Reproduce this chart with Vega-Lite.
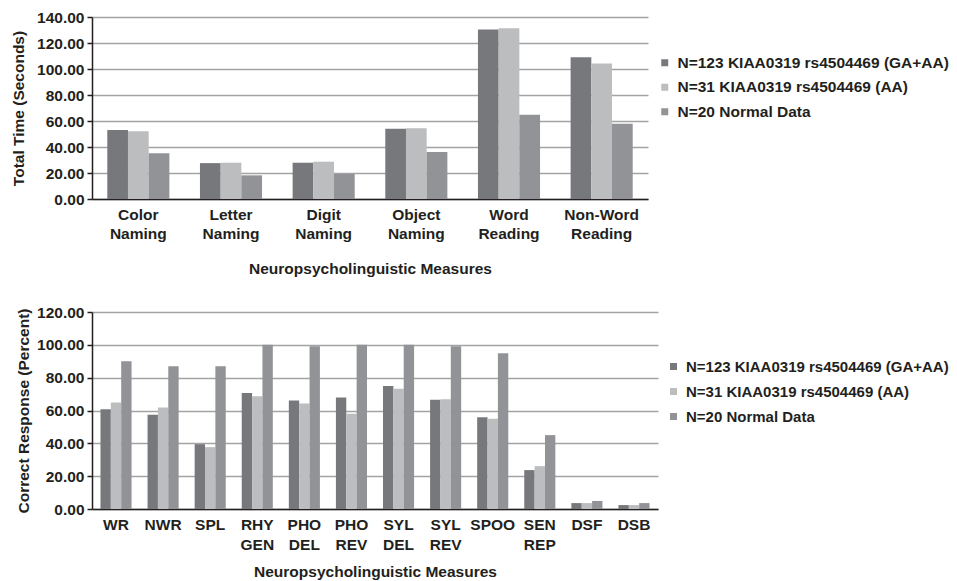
{
  "$schema": "https://vega.github.io/schema/vega-lite/v6.json",
  "padding": {"left": 11, "top": 10, "right": 0, "bottom": 0},
  "background": "white",
  "columns": 1,
  "align": "none",
  "spacing": 28,
  "datasets": {
    "time": [
      {"measure": "Color Naming", "group": "N=123 KIAA0319 rs4504469 (GA+AA)", "value": 53.0},
      {"measure": "Color Naming", "group": "N=31 KIAA0319 rs4504469 (AA)", "value": 52.2},
      {"measure": "Color Naming", "group": "N=20 Normal Data", "value": 35.1},
      {"measure": "Letter Naming", "group": "N=123 KIAA0319 rs4504469 (GA+AA)", "value": 27.6},
      {"measure": "Letter Naming", "group": "N=31 KIAA0319 rs4504469 (AA)", "value": 27.9},
      {"measure": "Letter Naming", "group": "N=20 Normal Data", "value": 18.2},
      {"measure": "Digit Naming", "group": "N=123 KIAA0319 rs4504469 (GA+AA)", "value": 27.9},
      {"measure": "Digit Naming", "group": "N=31 KIAA0319 rs4504469 (AA)", "value": 28.7},
      {"measure": "Digit Naming", "group": "N=20 Normal Data", "value": 19.3},
      {"measure": "Object Naming", "group": "N=123 KIAA0319 rs4504469 (GA+AA)", "value": 54.0},
      {"measure": "Object Naming", "group": "N=31 KIAA0319 rs4504469 (AA)", "value": 54.5},
      {"measure": "Object Naming", "group": "N=20 Normal Data", "value": 36.1},
      {"measure": "Word Reading", "group": "N=123 KIAA0319 rs4504469 (GA+AA)", "value": 130.3},
      {"measure": "Word Reading", "group": "N=31 KIAA0319 rs4504469 (AA)", "value": 131.3},
      {"measure": "Word Reading", "group": "N=20 Normal Data", "value": 64.8},
      {"measure": "Non-Word Reading", "group": "N=123 KIAA0319 rs4504469 (GA+AA)", "value": 109.0},
      {"measure": "Non-Word Reading", "group": "N=31 KIAA0319 rs4504469 (AA)", "value": 104.2},
      {"measure": "Non-Word Reading", "group": "N=20 Normal Data", "value": 57.8}
    ],
    "correct": [
      {"measure": "WR", "group": "N=123 KIAA0319 rs4504469 (GA+AA)", "value": 60.8},
      {"measure": "WR", "group": "N=31 KIAA0319 rs4504469 (AA)", "value": 64.9},
      {"measure": "WR", "group": "N=20 Normal Data", "value": 90.0},
      {"measure": "NWR", "group": "N=123 KIAA0319 rs4504469 (GA+AA)", "value": 57.4},
      {"measure": "NWR", "group": "N=31 KIAA0319 rs4504469 (AA)", "value": 61.8},
      {"measure": "NWR", "group": "N=20 Normal Data", "value": 87.0},
      {"measure": "SPL", "group": "N=123 KIAA0319 rs4504469 (GA+AA)", "value": 39.5},
      {"measure": "SPL", "group": "N=31 KIAA0319 rs4504469 (AA)", "value": 37.7},
      {"measure": "SPL", "group": "N=20 Normal Data", "value": 87.0},
      {"measure": "RHY GEN", "group": "N=123 KIAA0319 rs4504469 (GA+AA)", "value": 70.7},
      {"measure": "RHY GEN", "group": "N=31 KIAA0319 rs4504469 (AA)", "value": 68.7},
      {"measure": "RHY GEN", "group": "N=20 Normal Data", "value": 100.0},
      {"measure": "PHO DEL", "group": "N=123 KIAA0319 rs4504469 (GA+AA)", "value": 66.1},
      {"measure": "PHO DEL", "group": "N=31 KIAA0319 rs4504469 (AA)", "value": 64.3},
      {"measure": "PHO DEL", "group": "N=20 Normal Data", "value": 99.1},
      {"measure": "PHO REV", "group": "N=123 KIAA0319 rs4504469 (GA+AA)", "value": 67.9},
      {"measure": "PHO REV", "group": "N=31 KIAA0319 rs4504469 (AA)", "value": 58.0},
      {"measure": "PHO REV", "group": "N=20 Normal Data", "value": 100.0},
      {"measure": "SYL DEL", "group": "N=123 KIAA0319 rs4504469 (GA+AA)", "value": 75.0},
      {"measure": "SYL DEL", "group": "N=31 KIAA0319 rs4504469 (AA)", "value": 73.2},
      {"measure": "SYL DEL", "group": "N=20 Normal Data", "value": 100.0},
      {"measure": "SYL REV", "group": "N=123 KIAA0319 rs4504469 (GA+AA)", "value": 66.5},
      {"measure": "SYL REV", "group": "N=31 KIAA0319 rs4504469 (AA)", "value": 66.9},
      {"measure": "SYL REV", "group": "N=20 Normal Data", "value": 99.1},
      {"measure": "SPOO", "group": "N=123 KIAA0319 rs4504469 (GA+AA)", "value": 55.9},
      {"measure": "SPOO", "group": "N=31 KIAA0319 rs4504469 (AA)", "value": 54.9},
      {"measure": "SPOO", "group": "N=20 Normal Data", "value": 94.9},
      {"measure": "SEN REP", "group": "N=123 KIAA0319 rs4504469 (GA+AA)", "value": 23.7},
      {"measure": "SEN REP", "group": "N=31 KIAA0319 rs4504469 (AA)", "value": 26.1},
      {"measure": "SEN REP", "group": "N=20 Normal Data", "value": 45.0},
      {"measure": "DSF", "group": "N=123 KIAA0319 rs4504469 (GA+AA)", "value": 3.6},
      {"measure": "DSF", "group": "N=31 KIAA0319 rs4504469 (AA)", "value": 3.6},
      {"measure": "DSF", "group": "N=20 Normal Data", "value": 4.9},
      {"measure": "DSB", "group": "N=123 KIAA0319 rs4504469 (GA+AA)", "value": 2.4},
      {"measure": "DSB", "group": "N=31 KIAA0319 rs4504469 (AA)", "value": 2.4},
      {"measure": "DSB", "group": "N=20 Normal Data", "value": 3.6}
    ]
  },
  "config": {
    "font": "Liberation Sans",
    "view": {"stroke": null},
    "axis": {
      "labelFont": "Liberation Sans",
      "labelFontWeight": "bold",
      "labelFontSize": 15.5,
      "labelColor": "#231f20",
      "titleFont": "Liberation Sans",
      "titleFontWeight": "bold",
      "titleFontSize": 15.5,
      "titleColor": "#231f20",
      "domainColor": "#231f20",
      "domainWidth": 1.5,
      "tickColor": "#231f20",
      "tickWidth": 1.5,
      "gridColor": "#a3a3a3",
      "gridWidth": 1.3
    },
    "legend": {
      "labelFont": "Liberation Sans",
      "labelFontWeight": "bold",
      "labelFontSize": 15.5,
      "labelColor": "#231f20",
      "labelLimit": 400,
      "symbolType": "square",
      "symbolSize": 49,
      "symbolStrokeWidth": 0,
      "labelOffset": 5
    }
  },
  "resolve": {"scale": {"color": "independent", "xOffset": "independent", "x": "independent", "y": "independent"}, "legend": {"color": "independent"}},
  "concat": [
    {
      "data": {"name": "time"},
      "width": 556,
      "height": 182,
      "mark": {"type": "bar"},
      "encoding": {
        "x": {
          "field": "measure", "type": "nominal", "sort": null,
          "scale": {"paddingInner": 0.33, "paddingOuter": 0.165},
          "axis": {"title": "Neuropsycholinguistic Measures", "labelAngle": 0, "ticks": false,
                   "labelExpr": "split(datum.label, ' ')", "labelLineHeight": 19, "labelPadding": 8,
                   "titlePadding": 20, "labelBaseline": "top"}
        },
        "xOffset": {"field": "group", "type": "nominal",
          "scale": {"domain": ["N=123 KIAA0319 rs4504469 (GA+AA)", "N=31 KIAA0319 rs4504469 (AA)", "N=20 Normal Data"]}},
        "y": {
          "field": "value", "type": "quantitative",
          "scale": {"domain": [0, 140]},
          "axis": {"title": "Total Time (Seconds)", "values": [0, 20, 40, 60, 80, 100, 120, 140], "format": ".2f",
                   "tickSize": 5, "labelPadding": 3, "titlePadding": 10}
        },
        "color": {
          "field": "group", "type": "nominal",
          "scale": {"domain": ["N=123 KIAA0319 rs4504469 (GA+AA)", "N=31 KIAA0319 rs4504469 (AA)", "N=20 Normal Data"],
                    "range": ["#77787c", "#bcbdbf", "#929397"]},
          "legend": {"title": null, "orient": "none", "legendX": 565, "legendY": 38, "rowPadding": 7.5}
        }
      }
    },
    {
      "data": {"name": "correct"},
      "width": 566,
      "height": 197,
      "mark": {"type": "bar"},
      "encoding": {
        "x": {
          "field": "measure", "type": "nominal", "sort": null,
          "scale": {"paddingInner": 0.34, "paddingOuter": 0.18},
          "axis": {"title": "Neuropsycholinguistic Measures", "labelAngle": 0, "ticks": false,
                   "labelExpr": "split(datum.label, ' ')", "labelLineHeight": 20, "labelPadding": 8,
                   "titlePadding": 12, "labelBaseline": "top"}
        },
        "xOffset": {"field": "group", "type": "nominal",
          "scale": {"domain": ["N=123 KIAA0319 rs4504469 (GA+AA)", "N=31 KIAA0319 rs4504469 (AA)", "N=20 Normal Data"]}},
        "y": {
          "field": "value", "type": "quantitative",
          "scale": {"domain": [0, 120]},
          "axis": {"title": "Correct Response (Percent)", "values": [0, 20, 40, 60, 80, 100, 120], "format": ".2f",
                   "tickSize": 5, "labelPadding": 3, "titlePadding": 5}
        },
        "color": {
          "field": "group", "type": "nominal",
          "scale": {"domain": ["N=123 KIAA0319 rs4504469 (GA+AA)", "N=31 KIAA0319 rs4504469 (AA)", "N=20 Normal Data"],
                    "range": ["#77787c", "#bcbdbf", "#929397"]},
          "legend": {"title": null, "orient": "none", "legendX": 574, "legendY": 47, "rowPadding": 9, "labelFontSize": 15}
        }
      }
    }
  ]
}
